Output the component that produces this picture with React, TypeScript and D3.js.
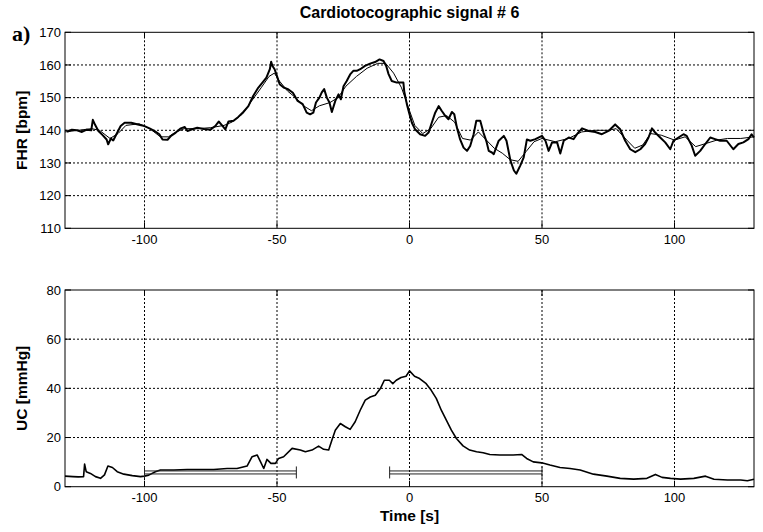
import React from "react";
import * as d3 from "d3";

// ---------- data ----------
const fhrTime = [-129.2,-127.4,-125.5,-123.6,-121.8,-120.1,-119.5,-118.6,-117.4,-115.9,-114.3,-113.7,-112.7,-111.8,-110.6,-109.0,-107.5,-105.0,-102.5,-100.0,-98.1,-96.3,-94.4,-93.2,-91.3,-90.0,-88.2,-86.3,-84.8,-83.8,-82.0,-80.1,-77.6,-75.1,-73.3,-72.0,-70.8,-69.5,-68.3,-66.4,-64.6,-62.7,-60.8,-59.0,-57.1,-55.2,-54.0,-52.7,-52.2,-51.7,-50.9,-50.0,-49.0,-47.5,-45.9,-44.0,-42.2,-40.3,-38.8,-37.5,-36.3,-35.3,-34.0,-33.1,-32.2,-31.2,-30.2,-29.3,-28.0,-26.8,-25.9,-24.9,-23.7,-22.4,-21.2,-19.9,-18.6,-16.8,-14.9,-13.0,-11.3,-9.8,-8.8,-7.9,-6.7,-4.8,-2.3,-2.0,-1.0,0.0,0.9,2.1,4.0,5.9,7.2,8.4,9.7,11.0,12.2,13.5,14.7,16.0,16.9,17.9,19.1,20.4,21.7,22.9,24.2,25.2,26.7,27.9,29.0,29.9,31.1,31.8,33.6,35.6,36.6,38.1,39.4,40.3,41.8,43.1,44.3,45.6,47.5,50.0,51.3,52.5,53.8,55.7,56.9,58.2,60.1,61.9,63.2,65.1,67.6,70.1,72.6,75.1,77.6,79.5,81.4,83.3,85.2,87.1,88.9,90.2,91.5,92.7,94.6,96.5,98.4,99.6,101.5,103.4,104.6,106.5,107.8,109.7,111.6,113.5,115.3,117.2,119.7,122.2,124.1,126.0,127.9,129.1,130.0];
const fhrValue = [139.5,140.2,140.0,139.5,140.2,140.0,143.2,141.6,139.8,138.6,137.2,135.7,137.5,136.9,138.8,141.3,142.3,142.3,141.8,141.3,140.6,139.8,138.8,137.2,137.1,138.3,139.3,140.6,141.0,139.8,140.3,140.8,140.4,140.2,141.3,142.7,141.6,140.3,142.7,142.9,144.1,145.6,147.4,150.5,153.0,154.9,156.1,158.7,161.0,159.7,158.7,156.6,154.1,153.1,152.6,151.5,149.0,148.0,145.4,144.9,145.4,148.5,150.0,151.6,152.6,150.0,148.5,145.6,149.0,151.0,149.5,153.5,155.1,157.1,158.2,158.2,158.7,159.7,160.4,160.9,161.7,161.2,159.7,157.2,155.1,154.6,154.6,152.0,148.0,144.9,142.3,140.3,138.8,138.3,139.3,142.3,145.4,147.4,145.9,144.4,143.4,145.6,144.9,140.8,137.2,134.7,133.7,135.2,138.8,142.9,142.9,139.3,136.7,133.7,133.2,132.7,136.7,138.3,136.8,130.7,127.7,126.7,129.2,131.7,137.2,136.8,137.3,138.3,136.8,133.7,136.3,136.3,132.9,136.8,137.8,137.3,138.8,140.6,139.8,139.5,138.8,139.8,141.8,140.3,136.8,134.2,133.3,134.2,135.8,137.8,140.6,139.3,137.8,136.3,134.2,136.8,137.8,138.8,138.3,135.3,132.2,133.7,135.8,137.8,137.3,136.8,136.8,134.2,135.8,136.3,137.3,138.8,137.8];

const fhrSmoothTime = [-130,-125,-120,-117,-113,-110,-107,-102,-98,-94,-91,-88,-85,-80,-75,-70,-67,-63,-60,-56,-53,-51,-49,-46,-43,-40,-37,-34,-30,-27,-24,-20,-16,-12,-9,-6,-3,0,2,5,8,11,14,17,20,23,26,29,32,35,38,41,44,47,50,55,60,65,70,75,78,82,85,88,91,95,100,104,108,112,116,120,125,130];
const fhrSmoothValue = [139.5,140,140.5,140,137.5,139,141.5,142,140.5,138,138,139.5,140.5,140.5,140.8,141.5,142.5,145,148.5,153,156.5,157.5,155,152,150,147.5,146,147.5,148.5,150,153.5,156.5,159,160.5,160.5,157.5,153,146,141.5,139,140.5,144,144.5,142.5,137.5,137,139.5,137,134.5,133,131,130.5,133.5,136.5,137.5,136.5,137.5,139.5,140,140,140.5,137,134.5,135.5,139,138.5,137,138,135,136,137,137.5,137.5,138];

const ucTime = [-130,-127,-125,-123,-122.6,-122,-120.4,-118.5,-116.6,-115.1,-113.8,-112.1,-110.3,-107.8,-104.6,-101.5,-100,-98.4,-95.9,-94,-88.9,-83.9,-78.9,-73.9,-68.8,-65.1,-61.3,-59.4,-57.5,-56.2,-55,-53.8,-52.3,-50.6,-49.4,-47.5,-44.3,-41.2,-39.3,-36.8,-34.3,-32.4,-30.5,-29.3,-28,-26.1,-24.2,-22.4,-20.5,-18.6,-16.7,-14.8,-12.9,-11,-9.5,-7.6,-6.3,-5,-3.2,-1.3,0,1.9,3.8,6.3,8.2,10.1,12,13.9,15.8,17.7,20.2,22.7,25.3,27.8,30.3,34.1,39.1,42.3,44.2,46.7,49.9,53,56.8,60.6,64.4,69.4,74.5,79.5,84.6,89.6,92.8,95.3,98.5,102.3,107.3,111.7,114.9,120,125,127.5,130];
const ucValue = [4.3,4.1,4.0,4.1,9.2,6.1,5.4,4.1,3.4,4.8,8.4,7.8,6.1,5.1,4.5,4.1,4.3,4.7,6.1,6.8,6.8,7.0,7.0,7.0,7.4,7.4,8.4,12.2,12.9,10.1,7.4,11.1,9.5,9.5,11.5,12.2,15.6,14.9,14.2,14.9,16.5,15.2,14.9,18.9,23.0,25.7,24.4,23.3,26.4,31.1,35.2,36.5,37.2,39.9,43.3,43.3,41.9,43.3,44.4,44.9,47.1,44.9,44.0,41.9,39.2,35.9,31.1,27.1,23.0,19.6,16.6,14.9,14.2,13.8,13.1,12.9,12.9,13.1,11.5,10.1,9.7,8.8,7.8,7.4,6.8,5.1,4.3,3.4,3.1,3.4,5.0,3.8,3.4,3.1,3.4,4.3,3.0,2.7,2.7,2.4,3.0];

const windowStart = [-100, -7.5];
const windowEnd = [-42.7, 50];
const windowLevel = [5.8, 5.8];

const xTicks = [-100, -50, 0, 50, 100];
const fhrTicks = [110, 120, 130, 140, 150, 160, 170];
const ucTicks = [0, 20, 40, 60, 80];

const title = "Cardiotocographic signal # 6";
const panelTag = "a)";
const xLabel = "Time [s]";
const fhrLabel = "FHR [bpm]";
const ucLabel = "UC [mmHg]";

// ---------- layout ----------
const W = 763, H = 532;
const L = 65, R = 754;
const top1 = 32.3, bot1 = 228.3;
const top2 = 290, bot2 = 486.7;
const font = "Arial, 'Liberation Sans', sans-serif";
const TICK = 6;

const x = d3.scaleLinear().domain([-130, 130]).range([L, R]);
const yF = d3.scaleLinear().domain([110, 170]).range([bot1, top1]);
const yU = d3.scaleLinear().domain([0, 80]).range([bot2, top2]);

function Panel({ y, yTicks, top, bot }: { y: d3.ScaleLinear<number, number>; yTicks: number[]; top: number; bot: number }) {
  return (
    <g>
      {xTicks.map((t) => (
        <line key={"gx" + t} x1={x(t)} x2={x(t)} y1={top} y2={bot} stroke="#000" strokeWidth={1} strokeDasharray="2,2" />
      ))}
      {yTicks.slice(1, -1).map((t) => (
        <line key={"gy" + t} x1={L} x2={R} y1={y(t)} y2={y(t)} stroke="#000" strokeWidth={1} strokeDasharray="2,2" />
      ))}
      {xTicks.map((t) => (
        <g key={"tx" + t}>
          <line x1={x(t)} x2={x(t)} y1={bot} y2={bot - TICK} stroke="#000" />
          <line x1={x(t)} x2={x(t)} y1={top} y2={top + TICK} stroke="#000" />
          <text x={x(t)} y={bot + 15.2} textAnchor="middle" fontFamily={font} fontSize={13} fill="#000">{t}</text>
        </g>
      ))}
      {yTicks.map((t) => (
        <g key={"ty" + t}>
          <line x1={L} x2={L + TICK} y1={y(t)} y2={y(t)} stroke="#000" />
          <line x1={R} x2={R - TICK} y1={y(t)} y2={y(t)} stroke="#000" />
          <text x={L - 4} y={y(t)} dy="0.35em" textAnchor="end" fontFamily={font} fontSize={13} fill="#000">{t}</text>
        </g>
      ))}
      <rect x={L} y={top} width={R - L} height={bot - top} fill="none" stroke="#000" strokeWidth={1} />
    </g>
  );
}

export default function App() {
  const fhrLine = d3.line<number>().x((_, i) => x(fhrTime[i])).y((v) => yF(v));
  const fhrSmoothLine = d3.line<number>().x((_, i) => x(fhrSmoothTime[i])).y((v) => yF(v));
  const ucLine = d3.line<number>().x((_, i) => x(ucTime[i])).y((v) => yU(v));

  return (
    <svg width={W} height={H} style={{ position: "absolute", left: 0, top: 0, background: "#fff" }}>
      <rect x={0} y={0} width={W} height={H} fill="#fff" />
      <text x={(L + R) / 2} y={18} textAnchor="middle" fontFamily={font} fontWeight="bold" fontSize={16} fill="#000">{title}</text>
      <text x={12} y={41} fontFamily="'Liberation Serif', 'Times New Roman', serif" fontWeight="bold" fontSize={22} fill="#000">{panelTag}</text>

      <Panel y={yF} yTicks={fhrTicks} top={top1} bot={bot1} />
      <path d={fhrSmoothLine(fhrSmoothValue) || ""} fill="none" stroke="#000" strokeWidth={1} />
      <path d={fhrLine(fhrValue) || ""} fill="none" stroke="#000" strokeWidth={2} strokeLinejoin="round" />
      <text transform={`translate(27,${(top1 + bot1) / 2}) rotate(-90)`} textAnchor="middle" fontFamily={font} fontWeight="bold" fontSize={15.5} fill="#000">{fhrLabel}</text>

      <Panel y={yU} yTicks={ucTicks} top={top2} bot={bot2} />
      <path d={ucLine(ucValue) || ""} fill="none" stroke="#000" strokeWidth={1.6} strokeLinejoin="round" />
      {windowStart.map((s, i) => {
        const yy = yU(windowLevel[i]);
        return (
          <g key={"w" + i} stroke="#222" strokeWidth={1}>
            <line x1={x(s)} x2={x(windowEnd[i])} y1={yy - 1.5} y2={yy - 1.5} />
            <line x1={x(s)} x2={x(windowEnd[i])} y1={yy + 1.5} y2={yy + 1.5} />
            <line x1={x(s)} x2={x(s)} y1={yy - 6} y2={yy + 6} />
            <line x1={x(windowEnd[i])} x2={x(windowEnd[i])} y1={yy - 6} y2={yy + 6} />
          </g>
        );
      })}
      <text transform={`translate(27,${(top2 + bot2) / 2}) rotate(-90)`} textAnchor="middle" fontFamily={font} fontWeight="bold" fontSize={15.5} fill="#000">{ucLabel}</text>
      <text x={(L + R) / 2} y={521} textAnchor="middle" fontFamily={font} fontWeight="bold" fontSize={15.5} fill="#000">{xLabel}</text>
    </svg>
  );
}
